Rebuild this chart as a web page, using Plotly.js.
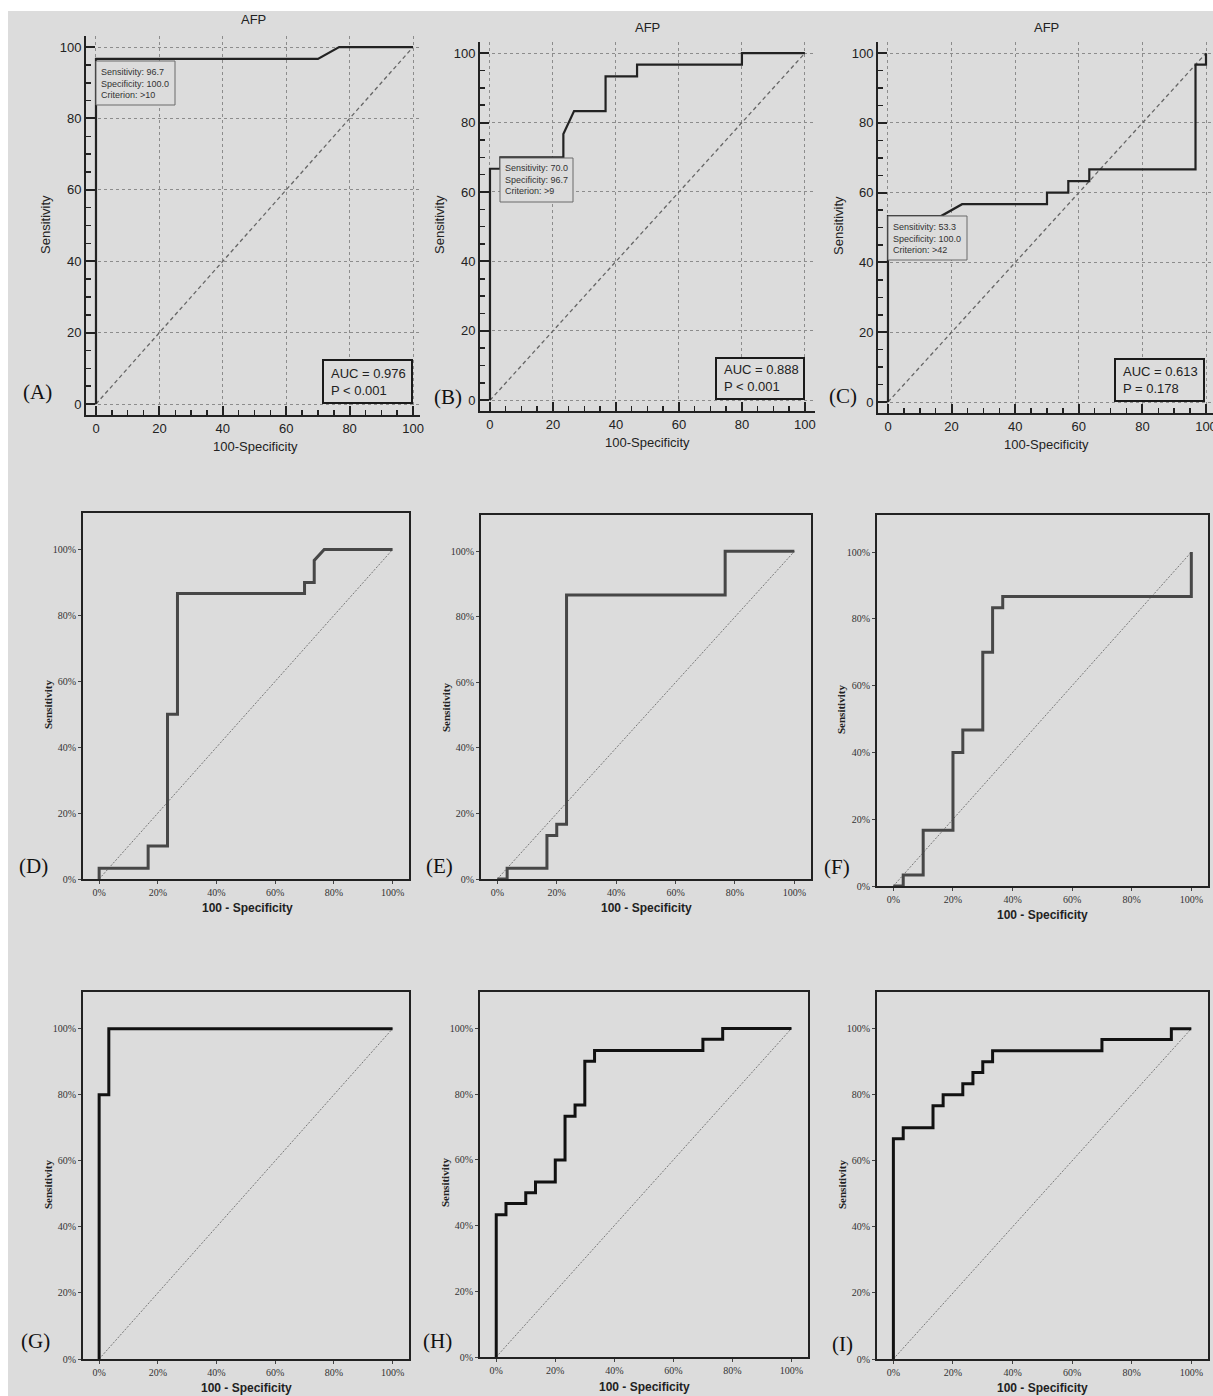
<!DOCTYPE html>
<html><head><meta charset="utf-8">
<script src="https://cdn.plot.ly/plotly-3.0.1.min.js"></script>
<style>html,body{margin:0;padding:0;background:#fff;}#chart{width:1213px;height:1396px;}</style>
</head><body><div id="chart"></div>
<script>
// ---------- DATA ----------
const diagX = [0, 100];
const diagY = [0, 100];

const aFPR  = [0, 0, 70, 76.7, 100];
const aSens = [0, 96.7, 96.7, 100, 100];
const bFPR  = [0, 0, 3.3, 3.3, 23.3, 23.3, 26.7, 36.7, 36.7, 46.7, 46.7, 80, 80, 100];
const bSens = [0, 66.7, 66.7, 70, 70, 76.7, 83.3, 83.3, 93.3, 93.3, 96.7, 96.7, 100, 100];
const cFPR  = [0, 0, 16.7, 23.3, 50, 50, 56.7, 56.7, 63.3, 63.3, 96.7, 96.7, 100, 100];
const cSens = [0, 53.3, 53.3, 56.7, 56.7, 60, 60, 63.3, 63.3, 66.7, 66.7, 96.7, 96.7, 100];

const dFPR  = [0, 0, 16.7, 16.7, 23.3, 23.3, 26.7, 26.7, 70, 70, 73.3, 73.3, 76.7, 100];
const dSens = [0, 3.3, 3.3, 10, 10, 50, 50, 86.7, 86.7, 90, 90, 96.7, 100, 100];
const eFPR  = [0, 3.3, 3.3, 16.7, 16.7, 20, 20, 23.3, 23.3, 76.7, 76.7, 100];
const eSens = [0, 0, 3.3, 3.3, 13.3, 13.3, 16.7, 16.7, 86.7, 86.7, 100, 100];
const fFPR  = [0, 3.3, 3.3, 10, 10, 20, 20, 23.3, 23.3, 30, 30, 33.3, 33.3, 36.7, 36.7, 100, 100];
const fSens = [0, 0, 3.3, 3.3, 16.7, 16.7, 40, 40, 46.7, 46.7, 70, 70, 83.3, 83.3, 86.7, 86.7, 100];

const gFPR  = [0, 0, 3.3, 3.3, 100];
const gSens = [0, 80, 80, 100, 100];
const hFPR  = [0, 0, 3.3, 3.3, 10, 10, 13.3, 13.3, 20, 20, 23.3, 23.3, 26.7, 26.7, 30, 30, 33.3, 33.3, 70, 70, 76.7, 76.7, 100];
const hSens = [0, 43.3, 43.3, 46.7, 46.7, 50, 50, 53.3, 53.3, 60, 60, 73.3, 73.3, 76.7, 76.7, 90, 90, 93.3, 93.3, 96.7, 96.7, 100, 100];
const iFPR  = [0, 0, 3.3, 3.3, 13.3, 13.3, 16.7, 16.7, 23.3, 23.3, 26.7, 26.7, 30, 30, 33.3, 33.3, 70, 70, 93.3, 93.3, 100];
const iSens = [0, 66.7, 66.7, 70, 70, 76.7, 76.7, 80, 80, 83.3, 83.3, 86.7, 86.7, 90, 90, 93.3, 93.3, 96.7, 96.7, 100, 100];

const panelLabels = ['(A)', '(B)', '(C)', '(D)', '(E)', '(F)', '(G)', '(H)', '(I)'];
const topTitle = 'AFP';
const topXTitle = '100-Specificity';
const lowXTitle = '100 - Specificity';
const yTitle = 'Sensitivity';
const cutBoxA = ['Sensitivity: 96.7', 'Specificity: 100.0', 'Criterion: >10'];
const cutBoxB = ['Sensitivity: 70.0', 'Specificity: 96.7', 'Criterion: >9'];
const cutBoxC = ['Sensitivity: 53.3', 'Specificity: 100.0', 'Criterion: >42'];
const aucTexts = ['AUC = 0.976', 'AUC = 0.888', 'AUC = 0.613'];
const pTexts   = ['P < 0.001', 'P < 0.001', 'P = 0.178'];

// ---------- LAYOUT ----------
const W = 1213, H = 1396, BG = '#dcdcdc';
const px = x => x / W, py = y => 1 - y / H;

const curves = [[aFPR,aSens],[bFPR,bSens],[cFPR,cSens],[dFPR,dSens],[eFPR,eSens],[fFPR,fSens],[gFPR,gSens],[hFPR,hSens],[iFPR,iSens]];
const cutBoxes = [cutBoxA, cutBoxB, cutBoxC];

// pixel frames of each plot area
const frames = [
  {L:86,  R:420,  T:36,  B:415,  xr:[-3.15,102.2], yr:[-3.08,103.1], title:[253,20], xt:[255,447], yt:[46,225], lab:[37,392],
   cut:[96,61,175,105], auc:[323,360,412,403]},
  {L:480, R:815,  T:42,  B:411,  xr:[-3.17,103.2], yr:[-3.08,103.2], title:[647,27], xt:[647,443], yt:[440,225], lab:[448,397],
   cut:[500,158,573,202], auc:[716,358,804,399]},
  {L:878, R:1213, T:42,  B:413,  xr:[-3.14,102.2], yr:[-3.15,103.2], title:[1046,27], xt:[1046,445], yt:[838,226], lab:[843,396],
   cut:[888,216,967,260], auc:[1115,359,1204,401]},
  {L:83,  R:409,  T:513, B:879,  xt:[247,908], yt:[48,705],  lab:[33,866]},
  {L:481, R:811,  T:515, B:879,  xt:[646,908], yt:[446,707], lab:[439,866]},
  {L:877, R:1208, T:515, B:886,  xt:[1042,915], yt:[841,710], lab:[837,867]},
  {L:83,  R:409,  T:992, B:1359, xt:[246,1388], yt:[48,1185], lab:[35,1341]},
  {L:480, R:808,  T:992, B:1357, xt:[644,1387], yt:[445,1183], lab:[437,1341]},
  {L:877, R:1208, T:992, B:1359, xt:[1042,1388], yt:[842,1185], lab:[842,1344]}
];

const traces = [];
const layout = {
  width: W, height: H, margin: {l:0, r:0, t:0, b:0},
  paper_bgcolor: '#ffffff', plot_bgcolor: 'rgba(0,0,0,0)', showlegend: false,
  shapes: [{type:'rect', xref:'paper', yref:'paper', x0:px(8), x1:1, y0:0, y1:py(11), fillcolor:BG, line:{width:0}, layer:'below'}],
  annotations: []
};
function ann(x, y, text, o) {
  layout.annotations.push(Object.assign({xref:'paper', yref:'paper', x:px(x), y:py(y), text:text, showarrow:false,
    xanchor:'center', yanchor:'middle'}, o));
}
const SANS = 'Liberation Sans, Arial, sans-serif';
const SERIF = 'Liberation Serif, Times New Roman, serif';

frames.forEach((f, i) => {
  const n = i + 1, sfx = n === 1 ? '' : String(n);
  const xa = 'xaxis' + sfx, ya = 'yaxis' + sfx;
  const top = i < 3, dark = i >= 6;
  const [cx, cy] = curves[i];
  if (top) {
    const ax = {showline:true, linecolor:'#222', linewidth:2, ticklabeloverflow:'allow',
      ticks:'inside', ticklen:9, tickwidth:2, tickcolor:'#222', tick0:0, dtick:20, showgrid:true, gridcolor:'#8c8c8c',
      griddash:'dot', gridwidth:1, zeroline:false, tickfont:{family:SANS, size:13, color:'#222'},
      minor:{tick0:0, dtick:5, ticks:'inside', ticklen:5, tickwidth:1.5, tickcolor:'#222', showgrid:false}, fixedrange:true};
    layout[xa] = Object.assign({}, ax, {domain:[px(f.L), px(f.R)], range:f.xr, anchor:'y'+sfx});
    layout[ya] = Object.assign({}, ax, {domain:[py(f.B), py(f.T)], range:f.yr, anchor:'x'+sfx});
    traces.push({x:diagX, y:diagY, xaxis:'x'+sfx, yaxis:'y'+sfx, mode:'lines', line:{color:'#666', width:1.3, dash:'4px,3px'}, hoverinfo:'skip'});
    traces.push({x:cx, y:cy, xaxis:'x'+sfx, yaxis:'y'+sfx, mode:'lines', line:{color:'#222', width:2.2}, hoverinfo:'skip'});
    ann(f.title[0], f.title[1], topTitle, {font:{family:SANS, size:13, color:'#222'}});
    ann(f.xt[0], f.xt[1], topXTitle, {font:{family:SANS, size:13, color:'#222'}});
    ann(f.yt[0], f.yt[1], yTitle, {textangle:-90, font:{family:SANS, size:13, color:'#222'}});
    // criterion box
    const c = f.cut;
    layout.shapes.push({type:'rect', xref:'paper', yref:'paper', x0:px(c[0]), x1:px(c[2]), y0:py(c[3]), y1:py(c[1]),
      fillcolor:BG, line:{color:'#6a6a6a', width:1}, layer:'above'});
    ann(c[0] + 3, (c[1] + c[3]) / 2, cutBoxes[i].join('<br>'), {xanchor:'left', align:'left', font:{family:SANS, size:9, color:'#333'}});
    // AUC box
    const a = f.auc;
    layout.shapes.push({type:'rect', xref:'paper', yref:'paper', x0:px(a[0]), x1:px(a[2]), y0:py(a[3]), y1:py(a[1]),
      fillcolor:BG, line:{color:'#1a1a1a', width:2}, layer:'above'});
    ann(a[0] + 6, (a[1] + a[3]) / 2, aucTexts[i] + '<br>' + pTexts[i], {xanchor:'left', align:'left', font:{family:SANS, size:13, color:'#222'}});
  } else {
    const ax = {showline:true, mirror:true, linecolor:'#222', linewidth:2, ticks:'outside', ticklen:3, tickwidth:1, tickcolor:'#444',
      tick0:0, dtick:20, ticksuffix:'%', showgrid:false, zeroline:false, tickfont:{family:SERIF, size:10, color:'#333'}, fixedrange:true};
    layout[xa] = Object.assign({}, ax, {domain:[px(f.L), px(f.R)], range:[-5.5, 105.6], anchor:'y'+sfx});
    layout[ya] = Object.assign({}, ax, {domain:[py(f.B), py(f.T)], range:[0, 111.1], anchor:'x'+sfx});
    traces.push({x:diagX, y:diagY, xaxis:'x'+sfx, yaxis:'y'+sfx, mode:'lines', line:{color:'#777', width:1, dash:'2px,1.5px'}, hoverinfo:'skip'});
    traces.push({x:cx, y:cy, xaxis:'x'+sfx, yaxis:'y'+sfx, mode:'lines', line:{color: dark ? '#111' : '#474747', width:3}, hoverinfo:'skip'});
    ann(f.xt[0], f.xt[1], '<b>' + lowXTitle + '</b>', {font:{family:SANS, size:12, color:'#222'}});
    ann(f.yt[0], f.yt[1], '<b>' + yTitle + '</b>', {textangle:-90, font:{family:SERIF, size:11, color:'#222'}});
  }
  ann(f.lab[0], f.lab[1], panelLabels[i], {font:{family:SERIF, size:21, color:'#111'}});
});

Plotly.newPlot('chart', traces, layout, {staticPlot:true, displayModeBar:false});
</script></body></html>
